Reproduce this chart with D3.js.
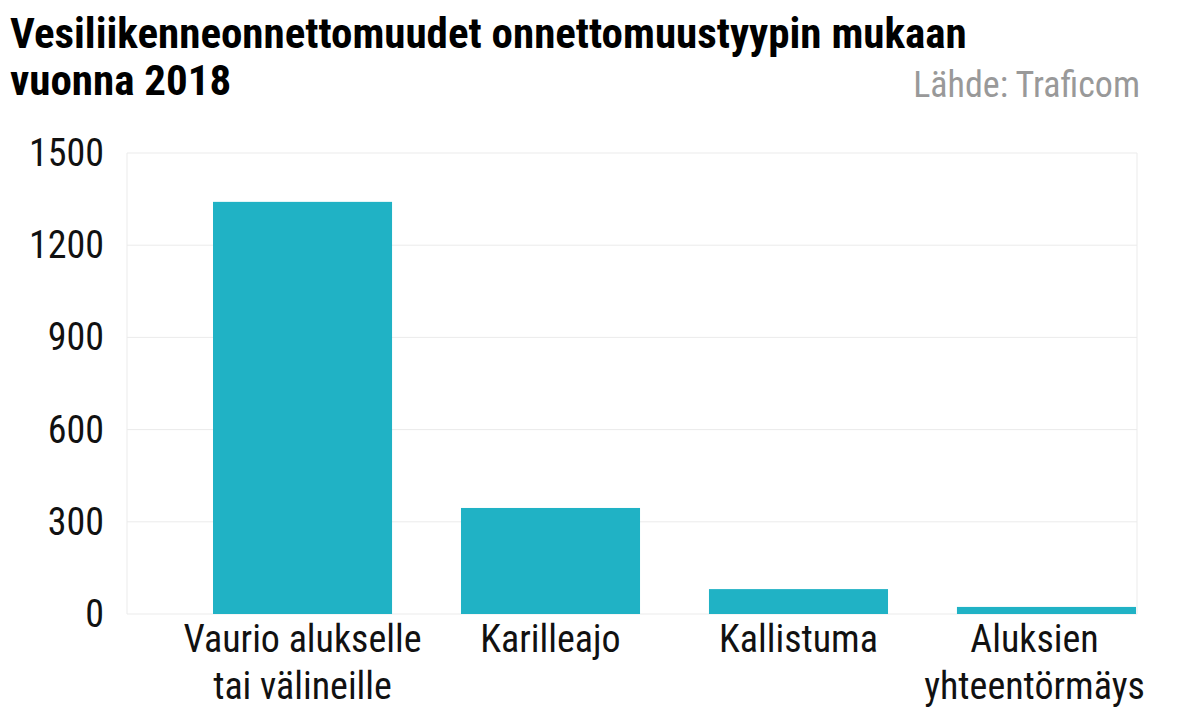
<!DOCTYPE html>
<html><head><meta charset="utf-8">
<script src="https://cdn.jsdelivr.net/npm/d3@7"></script>
<style>
body{margin:0;background:#fff;font-family:"Roboto Condensed","Liberation Sans Narrow","DejaVu Sans Condensed",sans-serif;}
</style></head>
<body><div id="chart"></div>
<script>
var categories = [["Vaurio alukselle","tai välineille"],["Karilleajo"],["Kallistuma"],["Aluksien","yhteentörmäys"]];
var values = [1341, 345, 81, 23];
var yTicks = [0, 300, 600, 900, 1200, 1500];

var svg = d3.select("#chart").append("svg").attr("width", 1198).attr("height", 725);

svg.append("text").attr("x", 10).attr("y", 48).attr("font-size", 43).attr("font-weight", "bold")
    .text("Vesiliikenneonnettomuudet onnettomuustyypin mukaan");
svg.append("text").attr("x", 10).attr("y", 95).attr("font-size", 43).attr("font-weight", "bold")
    .text("vuonna 2018");
svg.append("text").attr("x", 1140).attr("y", 97).attr("font-size", 36).attr("fill", "#999")
    .attr("text-anchor", "end").text("Lähde: Traficom");

var y = d3.scaleLinear().domain([0, 1500]).range([614, 153]);
var x = d3.scaleBand().domain(d3.range(categories.length)).range([213, 1136]).paddingInner(0.278).paddingOuter(0);

svg.selectAll("line.grid").data(yTicks).enter().append("line")
    .attr("x1", 127).attr("x2", 1137)
    .attr("y1", d => y(d)).attr("y2", d => y(d))
    .attr("stroke", "#ebebeb").attr("stroke-width", 1);
svg.append("line").attr("x1", 127).attr("x2", 127).attr("y1", 153).attr("y2", 614).attr("stroke", "#ebebeb");
svg.append("line").attr("x1", 1137).attr("x2", 1137).attr("y1", 153).attr("y2", 614).attr("stroke", "#ebebeb");

svg.selectAll("text.ytick").data(yTicks).enter().append("text")
    .attr("x", 104).attr("y", d => y(d) + 13).attr("text-anchor", "end")
    .attr("font-size", 38).attr("fill", "#111").text(d => d);

svg.selectAll("rect").data(values).enter().append("rect")
    .attr("x", (d, i) => x(i)).attr("width", x.bandwidth())
    .attr("y", d => y(d)).attr("height", d => y(0) - y(d))
    .attr("fill", "#20b2c5");

categories.forEach(function(lines, i) {
    var t = svg.append("text").attr("text-anchor", "middle").attr("font-size", 38).attr("fill", "#111");
    lines.forEach(function(l, j) {
        t.append("tspan").attr("x", x(i) + x.bandwidth() / 2 + (i === 3 ? -12 : 0))
            .attr("y", 652 + j * 47).text(l);
    });
});
</script></body></html>
